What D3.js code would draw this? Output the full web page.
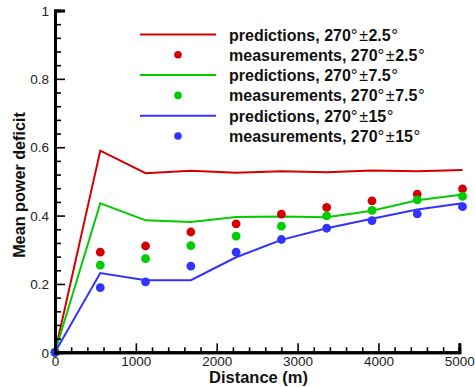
<!DOCTYPE html>
<html>
<head>
<meta charset="utf-8">
<script src="https://cdn.jsdelivr.net/npm/d3@7"></script>
<style>
  html, body { margin: 0; padding: 0; background: #fff; }
  svg { display: block; font-family: "Liberation Sans", Arial, sans-serif; }
</style>
</head>
<body>
<svg id="chart" width="475" height="387"></svg>
<script>
// Downstream distance of each turbine row (m)
const distance = [0, 560, 1120, 1680, 2240, 2800, 3360, 3920, 4480, 5040];

// Mean power deficit, predicted and measured, for three wind-direction sectors
const pred25 = [0, 0.590, 0.524, 0.531, 0.525, 0.530, 0.527, 0.532, 0.530, 0.533];
const meas25 = [0, 0.293, 0.311, 0.352, 0.376, 0.404, 0.424, 0.443, 0.463, 0.478];
const pred75 = [0, 0.436, 0.386, 0.381, 0.396, 0.397, 0.395, 0.414, 0.445, 0.462];
const meas75 = [0, 0.255, 0.274, 0.312, 0.340, 0.369, 0.399, 0.415, 0.446, 0.456];
const pred15 = [0, 0.232, 0.211, 0.211, 0.278, 0.329, 0.363, 0.391, 0.418, 0.436];
const meas15 = [0, 0.189, 0.206, 0.252, 0.293, 0.330, 0.363, 0.385, 0.405, 0.426];

const xTicks = [0, 1000, 2000, 3000, 4000, 5000];
const yTicks = [0, 0.2, 0.4, 0.6, 0.8, 1];

// Legend labels: word and sector half-width
const seriesWord = ["predictions", "measurements", "predictions", "measurements", "predictions", "measurements"];
const sectorHalfWidth = ["2.5", "2.5", "7.5", "7.5", "15", "15"];

const series = [
  { kind: "line", values: pred25, color: "#d40000" },
  { kind: "dot", values: meas25, color: "#d40000" },
  { kind: "line", values: pred75, color: "#00cc00" },
  { kind: "dot", values: meas75, color: "#00cc00" },
  { kind: "line", values: pred15, color: "#3333ff" },
  { kind: "dot", values: meas15, color: "#3333ff" }
].map((s, i) => ({ ...s, word: seriesWord[i], half: sectorHalfWidth[i] }));

const svg = d3.select("#chart");
const plotLeft = 55, plotRight = 459.3, plotTop = 10.5, plotBottom = 352.3;

const x = d3.scaleLinear().domain([0, 5000]).range([plotLeft, plotRight]);
const y = d3.scaleLinear().domain([0, 1]).range([plotBottom, plotTop]);

// Series: lines first, then dots
const line = d3.line().x((d, i) => x(distance[i])).y(d => y(d));
series.filter(s => s.kind === "line").forEach(s => {
  svg.append("path")
    .attr("d", line(s.values))
    .attr("fill", "none")
    .attr("stroke", s.color)
    .attr("stroke-width", 2);
});
series.filter(s => s.kind === "dot").forEach(s => {
  svg.append("g").selectAll("circle")
    .data(s.values)
    .join("circle")
    .attr("cx", (d, i) => x(distance[i]))
    .attr("cy", d => y(d))
    .attr("r", 4.4)
    .attr("fill", s.color);
});

// Axes with inward ticks
const xMinor = d3.range(0, 5001, 200).filter(v => v % 1000 !== 0);
const yMinor = d3.range(0, 26).map(i => +(i * 0.04).toFixed(2)).filter(v => v <= 1 && Math.abs(v * 5 - Math.round(v * 5)) > 1e-6);

const xAxisG = svg.append("g").attr("transform", `translate(0,${plotBottom})`);
xAxisG.append("g").call(d3.axisBottom(x).tickValues(xMinor).tickSize(-5).tickFormat(""));
xAxisG.append("g").call(d3.axisBottom(x).tickValues(xTicks).tickSize(-9).tickFormat(d3.format("d")));
xAxisG.selectAll(".domain").attr("stroke-width", 3).attr("stroke", "#000");
xAxisG.selectAll(".tick line").attr("stroke-width", 1.6).attr("stroke", "#000");
xAxisG.selectAll(".tick text")
  .attr("y", 4).attr("dy", "0.71em")
  .attr("font-size", "13.5px").attr("fill", "#222")
  .attr("font-family", "Liberation Sans, Arial, sans-serif");

const yAxisG = svg.append("g").attr("transform", `translate(${plotLeft},0)`);
yAxisG.append("g").call(d3.axisLeft(y).tickValues(yMinor).tickSize(-6).tickFormat(""));
yAxisG.append("g").call(d3.axisLeft(y).tickValues(yTicks).tickSize(-10).tickFormat(d => d === 0 ? "0" : d === 1 ? "1" : d3.format(".1f")(d)));
yAxisG.selectAll(".domain").attr("stroke-width", 3).attr("stroke", "#000");
yAxisG.selectAll(".tick line").attr("stroke-width", 1.6).attr("stroke", "#000");
yAxisG.selectAll(".tick text")
  .attr("x", -6).attr("dy", "0.35em")
  .attr("font-size", "13.5px").attr("fill", "#222")
  .attr("font-family", "Liberation Sans, Arial, sans-serif");

// Axis titles
svg.append("text")
  .attr("x", 258.5).attr("y", 383)
  .attr("text-anchor", "middle")
  .attr("font-size", "16.5px").attr("font-weight", "bold")
  .attr("fill", "#111")
  .text("Distance (m)");

svg.append("text")
  .attr("transform", "translate(24.5,185) rotate(-90)")
  .attr("text-anchor", "middle")
  .attr("font-size", "16.2px").attr("font-weight", "bold")
  .attr("fill", "#111")
  .text("Mean power deficit");

// Legend
const legend = svg.append("g");
series.forEach((s, i) => {
  const cy = 34.5 + i * 20.3;
  if (s.kind === "line") {
    legend.append("line")
      .attr("x1", 140).attr("x2", 216).attr("y1", cy).attr("y2", cy)
      .attr("stroke", s.color).attr("stroke-width", 2);
  } else {
    legend.append("circle")
      .attr("cx", 178).attr("cy", cy).attr("r", 3.8)
      .attr("fill", s.color);
  }
  const t = legend.append("text")
    .attr("x", 229).attr("y", cy + 6)
    .attr("font-size", "16px").attr("font-weight", "bold")
    .attr("fill", "#111");
  t.append("tspan").text(`${s.word}, 270`);
  t.append("tspan").attr("font-weight", "normal").attr("font-size", "17px").text("°");
  t.append("tspan").attr("font-weight", "normal").attr("dx", 1.5).text("±");
  t.append("tspan").attr("dx", 0.5).text(s.half);
  t.append("tspan").attr("font-weight", "normal").attr("font-size", "17px").attr("dx", 0.5).text("°");
});
</script>
</body>
</html>
